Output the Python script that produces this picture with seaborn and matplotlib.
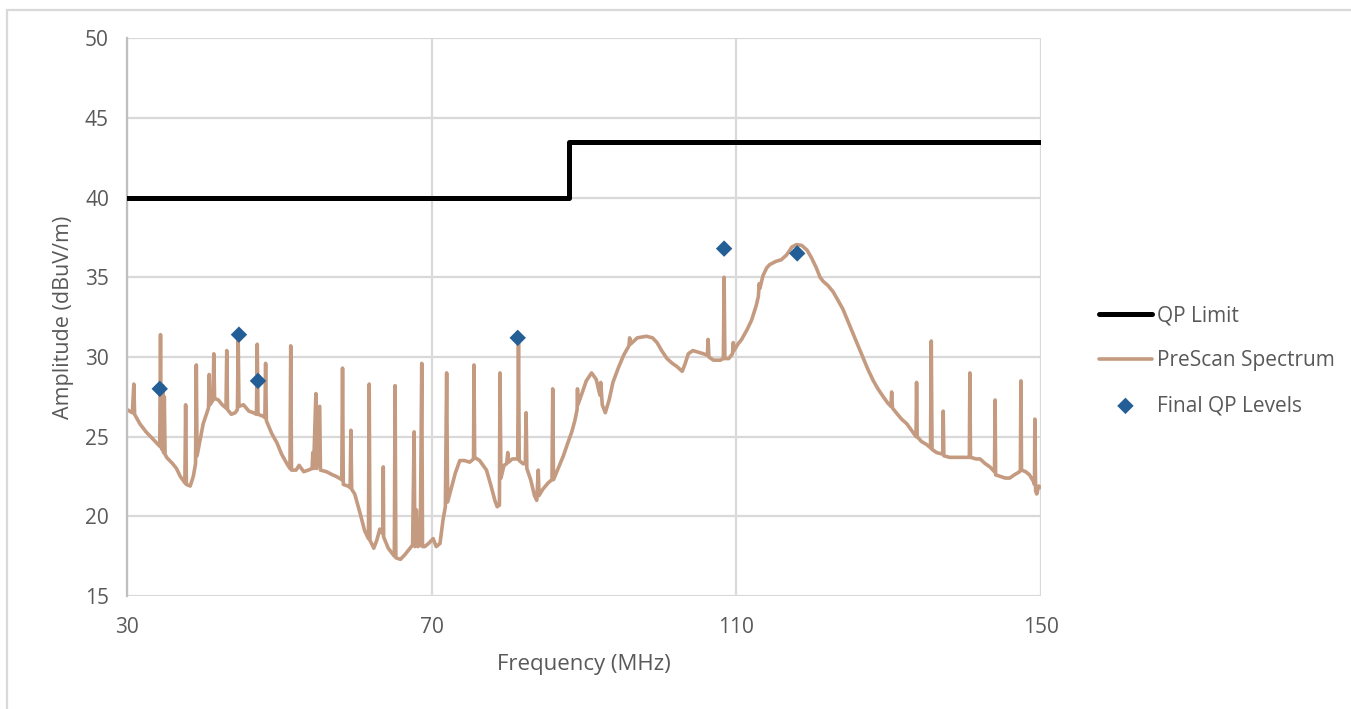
"""
plot.py — EMI prescan spectrum vs QP limit, with final QP measurements.
"""
import matplotlib
matplotlib.use("Agg")  # headless backend
import matplotlib.pyplot as plt
import pandas as pd
import seaborn as sns
from matplotlib.patches import Rectangle

# QP limit (step at 88 MHz)
limit_freq = [30, 88, 88, 150]
limit_amp = [40.0, 40.0, 43.5, 43.5]

# Final QP measurement points
qp_freq = [34.3, 44.7, 47.2, 81.3, 108.4, 118.0]
qp_amp = [28.0, 31.4, 28.5, 31.2, 36.8, 36.5]

# PreScan spectrum (spikes included)
spec_freq = [
    30.0, 30.7, 30.9, 31.0, 31.7, 32.5, 33.5, 34.3, 34.4, 34.5, 34.6, 34.7, 34.8, 34.9, 35.0,
    35.2, 36.0, 36.5, 37.0, 37.6, 37.7, 37.8, 38.3, 38.7, 39.0, 39.1, 39.2, 39.6, 40.0,
    40.5, 40.7, 40.8, 40.9, 41.3, 41.4, 41.5, 42.0, 42.5, 43.0, 43.1, 43.2, 43.7, 44.2,
    44.5, 44.6, 44.7, 45.3, 46.0, 46.6, 47.0, 47.1, 47.2, 47.8, 48.1, 48.2, 48.3, 49.0,
    49.7, 50.3, 51.0, 51.4, 51.5, 51.6, 52.2, 52.6, 53.2, 53.8, 54.3, 54.4, 54.5, 54.8,
    54.9, 55.3, 55.4, 56.2, 57.0, 57.5, 58.2, 58.3, 58.4, 59.0, 59.3, 59.4, 59.5, 59.9,
    60.6, 61.2, 61.7, 61.8, 61.9, 62.4, 62.8, 63.2, 63.6, 63.65, 63.7, 64.3, 65.1, 65.2,
    65.3, 65.9, 66.5, 67.0, 67.5, 67.7, 67.8, 68.0, 68.2, 68.5, 68.7, 68.8, 69.1, 69.6,
    70.2, 70.6, 71.1, 71.5, 71.8, 71.97, 72.1, 72.6, 73.1, 73.7, 74.3, 75.0, 75.5, 75.56,
    75.65, 76.3, 77.2, 77.8, 78.3, 78.6, 78.9, 78.97, 79.1, 79.5, 79.85, 80.0, 80.1, 80.6,
    81.3, 81.4, 81.5, 82.0, 82.3, 82.4, 82.5, 83.0, 83.5, 83.8, 84.0, 84.1, 84.6, 85.3,
    85.8, 85.9, 86.0, 86.6, 87.3, 87.8, 88.4, 88.8, 89.1, 89.15, 89.2, 89.8, 90.3, 91.0,
    91.6, 92.1, 92.2, 92.4, 92.8, 93.3, 93.8, 94.5, 95.2, 95.9, 96.0, 96.1, 97.0, 98.2,
    99.0, 99.6, 100.2, 100.9, 101.6, 102.2, 102.9, 103.3, 103.7, 104.3, 105.0, 105.7, 106.2,
    106.3, 106.4, 107.0, 107.9, 108.3, 108.4, 108.5, 109.0, 109.5, 109.6, 109.7, 110.2,
    110.7, 111.4, 112.0, 112.6, 112.9, 113.0, 113.1, 113.5, 114.0, 114.4, 115.2, 115.9,
    116.6, 117.3, 117.9, 118.6, 119.3, 119.9, 120.5, 121.0, 121.4, 122.0, 122.7, 123.3,
    124.0, 124.6, 125.3, 126.0, 126.7, 127.3, 128.0, 128.6, 129.3, 129.9, 130.3, 130.4,
    130.5, 131.0, 131.7, 132.4, 133.0, 133.6, 133.67, 133.75, 134.3, 135.0, 135.5, 135.6,
    135.7, 136.3, 137.1, 137.17, 137.25, 138.0, 139.0, 140.2, 140.6, 140.67, 140.75, 141.5,
    142.0, 142.7, 143.3, 143.9, 143.98, 144.05, 144.7, 145.3, 145.9, 146.5, 147.2, 147.3,
    147.37, 147.45, 148.0, 148.5, 149.0, 149.15, 149.2, 149.3, 149.45, 149.7, 150.0,
]
spec_amp = [
    26.7, 26.5, 28.3, 26.4, 25.8, 25.3, 24.8, 24.4, 31.4, 24.3, 24.2, 28.2, 24.0, 27.5, 23.9,
    23.7, 23.3, 23.0, 22.5, 22.1, 27.0, 22.0, 21.9, 22.5, 23.3, 29.5, 23.8, 24.8, 25.8,
    26.5, 26.8, 28.9, 27.0, 27.3, 30.2, 27.4, 27.3, 27.0, 26.8, 30.4, 26.7, 26.4, 26.5,
    26.7, 31.1, 26.9, 27.0, 26.6, 26.5, 26.4, 30.8, 26.4, 26.3, 26.2, 29.6, 26.0, 25.2,
    24.6, 23.9, 23.3, 23.0, 30.7, 22.9, 22.9, 23.2, 22.8, 22.9, 23.0, 24.0, 23.0, 27.7,
    23.0, 26.9, 22.9, 22.8, 22.6, 22.5, 22.3, 29.3, 22.0, 21.9, 21.8, 25.4, 21.7, 21.4,
    20.2, 19.1, 18.6, 28.3, 18.5, 18.0, 18.5, 19.2, 18.9, 23.1, 18.7, 18.0, 17.5, 28.2,
    17.4, 17.3, 17.6, 17.9, 18.2, 25.3, 18.1, 20.4, 18.1, 18.2, 29.6, 18.1, 18.1, 18.3,
    18.6, 18.1, 18.3, 19.8, 20.6, 29.0, 20.9, 21.8, 22.7, 23.5, 23.5, 23.4, 23.6, 29.5,
    23.7, 23.5, 22.9, 21.9, 21.0, 20.6, 20.7, 29.0, 22.4, 23.2, 23.3, 24.0, 23.4, 23.6,
    23.6, 31.1, 23.5, 23.3, 23.3, 26.5, 23.0, 22.3, 21.3, 21.0, 22.9, 21.3, 21.7, 22.1,
    22.3, 28.0, 22.3, 23.0, 23.8, 24.5, 25.3, 26.0, 26.7, 28.0, 27.0, 27.8, 28.5, 29.0,
    28.6, 27.6, 28.4, 27.0, 26.5, 27.3, 28.4, 29.3, 30.1, 30.7, 31.2, 30.8, 31.2, 31.3,
    31.2, 30.9, 30.4, 29.9, 29.6, 29.4, 29.1, 29.6, 30.2, 30.4, 30.3, 30.2, 30.1,
    31.1, 30.0, 29.8, 29.8, 29.9, 35.0, 29.9, 29.9, 30.2, 30.9, 30.4, 30.8,
    31.1, 31.7, 32.3, 33.2, 33.8, 34.6, 34.3, 35.1, 35.6, 35.8, 36.0, 36.1,
    36.4, 36.9, 37.05, 37.0, 36.7, 36.2, 35.6, 35.0, 34.75, 34.5, 34.1, 33.6,
    33.0, 32.3, 31.5, 30.7, 29.9, 29.2, 28.5, 28.0, 27.5, 27.1, 26.9, 27.8,
    26.8, 26.5, 26.1, 25.8, 25.4, 25.0, 28.4, 25.0, 24.7, 24.5, 24.3, 31.0,
    24.2, 24.0, 23.9, 26.6, 23.8, 23.7, 23.7, 23.7, 23.7, 29.0, 23.7, 23.6,
    23.6, 23.3, 23.1, 22.8, 27.3, 22.6, 22.5, 22.4, 22.4, 22.6, 22.8, 22.9,
    28.5, 22.9, 22.8, 22.6, 22.2, 22.0, 26.1, 21.6, 21.4, 21.9, 21.8,
]

sns.set_style("white")
plt.rcParams["font.family"] = ["Open Sans", "DejaVu Sans"]

text_color = "#595959"
grid_color = "#D9D9D9"

limit_df = pd.DataFrame({"freq": limit_freq, "amp": limit_amp})
spec_df = pd.DataFrame({"freq": spec_freq, "amp": spec_amp})
qp_df = pd.DataFrame({"freq": qp_freq, "amp": qp_amp})

fig = plt.figure(figsize=(13.51, 7.09), dpi=100)
ax = fig.add_axes([0.094, 0.1594, 0.6765, 0.7866])

sns.lineplot(data=limit_df, x="freq", y="amp", sort=False, estimator=None,
             color="black", lw=3.6, label="QP Limit", ax=ax, zorder=3)
sns.lineplot(data=spec_df, x="freq", y="amp", sort=False, estimator=None,
             color="#C49B80", lw=2.6, label="PreScan Spectrum", ax=ax, zorder=2)
sns.scatterplot(data=qp_df, x="freq", y="amp", marker="D", s=70,
                color="#245E96", edgecolor="none", label="Final QP Levels",
                ax=ax, zorder=4)

ax.set_xlim(30, 150)
ax.set_ylim(15, 50)
ax.set_xticks([30, 70, 110, 150])
ax.set_yticks(range(15, 51, 5))
ax.grid(True, color=grid_color, lw=1.6)
ax.set_axisbelow(True)
for side in ["top", "right", "bottom"]:
    ax.spines[side].set_visible(False)
ax.spines["left"].set_color("#BFBFBF")
ax.spines["left"].set_linewidth(1.6)
ax.tick_params(axis="both", length=0, labelsize=15, colors=text_color)
ax.tick_params(axis="x", pad=15)
ax.tick_params(axis="y", pad=13)
ax.set_xlabel("Frequency (MHz)", fontsize=16, color=text_color, labelpad=12)
ax.set_ylabel("Amplitude (dBuV/m)", fontsize=15.5, color=text_color, labelpad=8)

leg = ax.legend(loc="center left", bbox_to_anchor=(0.7995, 0.491),
                bbox_transform=fig.transFigure, frameon=False, fontsize=15,
                handlelength=2.55, handletextpad=0.25, labelspacing=1.15)
for txt in leg.get_texts():
    txt.set_color(text_color)

# light outer chart border (top and left edges visible in the reference)
fig.patches.append(Rectangle((7 / 1351, -0.05), 1.1, 1.05 - 10 / 709,
                             transform=fig.transFigure, fill=False,
                             edgecolor=grid_color, lw=1.6))

fig.savefig("out.png", dpi=100)
plt.close(fig)
